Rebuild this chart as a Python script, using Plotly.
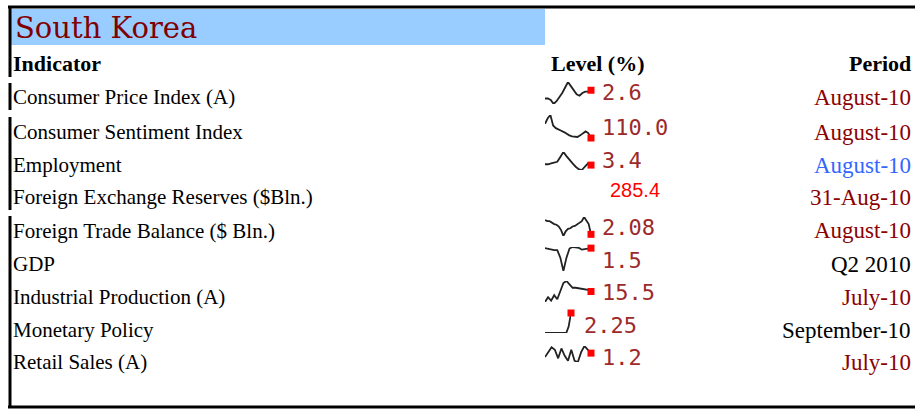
import plotly.graph_objects as go

W, H = 915, 410

# table content
indicators = ["Consumer Price Index (A)", "Consumer Sentiment Index", "Employment",
              "Foreign Exchange Reserves ($Bln.)", "Foreign Trade Balance ($ Bln.)", "GDP",
              "Industrial Production (A)", "Monetary Policy", "Retail Sales (A)"]
levels = ["2.6", "110.0", "3.4", "285.4", "2.08", "1.5", "15.5", "2.25", "1.2"]
periods = ["August-10", "August-10", "August-10", "31-Aug-10", "August-10",
           "Q2 2010", "July-10", "September-10", "July-10"]
period_colors = ["#8B0000", "#8B0000", "#3366FF", "#8B0000", "#8B0000",
                 "#000000", "#8B0000", "#000000", "#8B0000"]

# sparkline history
spark_cpi = [2.0, 2.0, 1.9, 1.6, 1.8, 2.1, 2.4, 2.8, 3.2, 2.9, 2.6, 2.3, 2.2, 2.4, 2.5, 2.5, 2.6]
spark_csi = [114.3, 116, 117, 113.8, 113, 112.5, 112.2, 111.8, 111.2, 110.8, 110.5, 110.3,
             110.3, 110.8, 111.5, 112, 111.5, 110.0]
spark_emp = [3.45, 3.45, 3.5, 3.55, 3.6, 3.9, 4.2, 3.95, 3.7, 3.5, 3.3, 3.15, 3.1, 3.3, 3.5, 3.4]
spark_ftb = [4.5, 4.3, 4.3, 4.0, 3.8, 3.7, 3.4, 2.8, 1.8, 2.6, 3.0, 3.1, 3.4, 3.5, 3.8, 4.0,
             4.3, 5.0, 4.5, 3.8, 2.08]
spark_gdp = [1.5, 1.3, 1.1, 1.0, 1.0, -1.0, -4.5, -1.0, 1.4, 1.8, 1.7, 1.6, 1.1, 1.2, 1.4, 1.5]
spark_ip = [0, 7, 2, 10, 4, 17, 28, 31, 26, 21, 21, 20, 19, 19, 18, 15.5]
spark_mp = [2.0, 2.0, 2.0, 2.0, 2.0, 2.0, 2.0, 2.0, 2.0, 2.0, 2.08, 2.25]
spark_rs = [-2, 2, 6, 4, -3, 5, -1, -5, 4, -5, -6, 2, 7, 4, 1.2]

sparks = [spark_cpi, spark_csi, spark_emp, None, spark_ftb, spark_gdp, spark_ip, spark_mp, spark_rs]

# layout in pixels
row_y = [97, 132, 165, 197, 231, 264, 297, 330, 362]
value_y = [93, 127, 160, 190, 227, 260, 292, 325, 357]
value_x = [600, 600, 600, 608, 600, 600, 600, 582, 600]
spark_box = [(545, 591, 82, 104), (545, 591, 115, 138), (545, 591, 152, 170), None,
             (545, 591, 217, 236), (545, 591, 247, 271), (545, 591, 281, 302),
             (545, 571, 313, 333), (545, 591, 346, 362)]

def px(x):
    return x / W

def py(y):
    return 1 - y / H

fig = go.Figure()
annotations = []
shapes = []

# frame and title bar
line = dict(color="black", width=3)
shapes.append(dict(type="rect", xref="paper", yref="paper", x0=px(9), x1=px(545), y0=py(45), y1=py(9),
                   fillcolor="#99CCFF", line=dict(width=0), layer="below"))
shapes.append(dict(type="line", xref="paper", yref="paper", x0=px(8), x1=1, y0=py(7), y1=py(7), line=line))
shapes.append(dict(type="line", xref="paper", yref="paper", x0=px(8), x1=1, y0=py(407), y1=py(407), line=line))
for y0, y1 in [(7, 77), (83, 110), (117, 210), (216, 407)]:
    shapes.append(dict(type="line", xref="paper", yref="paper", x0=px(10), x1=px(10), y0=py(y0), y1=py(y1), line=line))

annotations.append(dict(text="South Korea", x=px(13), y=py(28), xref="paper", yref="paper",
                        xanchor="left", yanchor="middle", showarrow=False,
                        font=dict(family="DejaVu Serif", size=29, color="#800000")))

hdr_font = dict(family="Liberation Serif", size=22, color="black")
annotations.append(dict(text="<b>Indicator</b>", x=px(11), y=py(63), xanchor="left"))
annotations.append(dict(text="<b>Level (%)</b>", x=px(549), y=py(63), xanchor="left"))
annotations.append(dict(text="<b>Period</b>", x=px(913), y=py(63), xanchor="right"))
for a in annotations[-3:]:
    a.update(xref="paper", yref="paper", yanchor="middle", showarrow=False, font=hdr_font)

k = 2
for i, name in enumerate(indicators):
    annotations.append(dict(text=name, x=px(11), y=py(row_y[i]), xref="paper", yref="paper",
                            xanchor="left", yanchor="middle", showarrow=False,
                            font=dict(family="Liberation Serif", size=21, color="black")))
    annotations.append(dict(text=periods[i], x=px(913), y=py(row_y[i]), xref="paper", yref="paper",
                            xanchor="right", yanchor="middle", showarrow=False,
                            font=dict(family="Liberation Serif", size=23, color=period_colors[i])))
    if sparks[i] is None:
        vfont = dict(family="Liberation Sans", size=20, color="#FF0000")
    else:
        vfont = dict(family="DejaVu Sans Mono", size=22, color="#9C2A2A")
    annotations.append(dict(text=levels[i], x=px(value_x[i]), y=py(value_y[i]), xref="paper", yref="paper",
                            xanchor="left", yanchor="middle", showarrow=False, font=vfont))

    s = sparks[i]
    if s is None:
        continue
    x0, x1, y0, y1 = spark_box[i]
    xs = list(range(len(s)))
    fig.add_trace(go.Scatter(x=xs, y=s, xaxis=f"x{k}", yaxis=f"y{k}", mode="lines",
                             line=dict(color="#222222", width=1.8), hoverinfo="skip", showlegend=False))
    fig.add_trace(go.Scatter(x=[xs[-1]], y=[s[-1]], xaxis=f"x{k}", yaxis=f"y{k}", mode="markers",
                             marker=dict(color="#FF0000", size=7, symbol="square"), cliponaxis=False,
                             hoverinfo="skip", showlegend=False))
    fig.layout[f"xaxis{k}"] = dict(domain=[px(x0), px(x1)], range=[0, len(s) - 1], visible=False,
                                   anchor=f"y{k}", fixedrange=True)
    fig.layout[f"yaxis{k}"] = dict(domain=[py(y1), py(y0)], range=[min(s), max(s)], visible=False,
                                   anchor=f"x{k}", fixedrange=True)
    k += 1

fig.update_layout(width=W, height=H, margin=dict(l=0, r=0, t=0, b=0),
                  paper_bgcolor="white", plot_bgcolor="white",
                  xaxis=dict(visible=False), yaxis=dict(visible=False),
                  annotations=annotations, shapes=shapes, showlegend=False)

# page body margin would push the 915px figure out of the window
fig.write_html("out.html", config={"displayModeBar": False},
               post_script="document.body.style.margin='0';document.body.style.overflow='hidden';")
